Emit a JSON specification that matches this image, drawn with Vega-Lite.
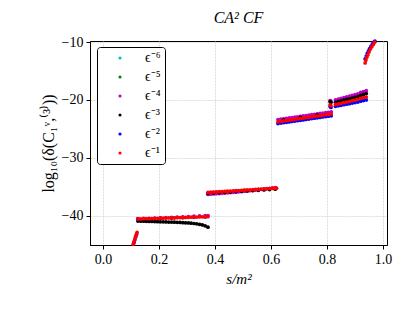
{
"$schema": "https://vega.github.io/schema/vega-lite/v6.json",
"width": 297, "height": 204,
"autosize": {"type": "none"},
"padding": {"left": 90, "top": 41, "right": 23, "bottom": 68},
"background": "white",
"title": {"text": "CA² CF", "font": "Liberation Serif", "fontSize": 16, "fontStyle": "italic", "fontWeight": "normal", "color": "black", "offset": 9, "anchor": "middle"},
"config": {
  "view": {"stroke": "black", "strokeWidth": 1},
  "axis": {"labelFont": "Liberation Serif", "labelFontSize": 14, "labelColor": "black", "titleFont": "Liberation Serif", "titleFontSize": 15, "titleFontWeight": "normal", "titleColor": "black", "domainColor": "black", "tickColor": "black", "tickSize": 4, "labelPadding": 3, "grid": true, "gridColor": "#d4d4d4", "gridDash": [2, 1], "gridWidth": 0.8}
},
"data": {"values": [
{"x":0.205,"y":-40.47,"e":"ϵ⁻⁶"},{"x":0.505,"y":-35.61,"e":"ϵ⁻⁶"},{"x":0.725,"y":-23.08,"e":"ϵ⁻⁶"},
{"x":0.255,"y":-40.39,"e":"ϵ⁻⁵"},{"x":0.555,"y":-35.46,"e":"ϵ⁻⁵"},{"x":0.765,"y":-22.79,"e":"ϵ⁻⁵"},
{"x":0.125,"y":-40.55,"e":"ϵ⁻⁴"},{"x":0.145,"y":-40.51,"e":"ϵ⁻⁴"},{"x":0.165,"y":-40.48,"e":"ϵ⁻⁴"},{"x":0.185,"y":-40.44,"e":"ϵ⁻⁴"},{"x":0.205,"y":-40.40,"e":"ϵ⁻⁴"},{"x":0.225,"y":-40.36,"e":"ϵ⁻⁴"},{"x":0.245,"y":-40.32,"e":"ϵ⁻⁴"},{"x":0.265,"y":-40.27,"e":"ϵ⁻⁴"},{"x":0.285,"y":-40.22,"e":"ϵ⁻⁴"},{"x":0.305,"y":-40.17,"e":"ϵ⁻⁴"},{"x":0.325,"y":-40.12,"e":"ϵ⁻⁴"},{"x":0.345,"y":-40.07,"e":"ϵ⁻⁴"},{"x":0.365,"y":-40.02,"e":"ϵ⁻⁴"},{"x":0.375,"y":-40.00,"e":"ϵ⁻⁴"},
{"x":0.375,"y":-36.35,"e":"ϵ⁻⁴"},{"x":0.385,"y":-36.31,"e":"ϵ⁻⁴"},{"x":0.395,"y":-36.27,"e":"ϵ⁻⁴"},{"x":0.405,"y":-36.23,"e":"ϵ⁻⁴"},{"x":0.415,"y":-36.19,"e":"ϵ⁻⁴"},{"x":0.425,"y":-36.15,"e":"ϵ⁻⁴"},{"x":0.435,"y":-36.11,"e":"ϵ⁻⁴"},{"x":0.445,"y":-36.07,"e":"ϵ⁻⁴"},{"x":0.455,"y":-36.03,"e":"ϵ⁻⁴"},{"x":0.465,"y":-35.99,"e":"ϵ⁻⁴"},{"x":0.475,"y":-35.95,"e":"ϵ⁻⁴"},{"x":0.485,"y":-35.90,"e":"ϵ⁻⁴"},{"x":0.495,"y":-35.85,"e":"ϵ⁻⁴"},{"x":0.505,"y":-35.80,"e":"ϵ⁻⁴"},{"x":0.515,"y":-35.75,"e":"ϵ⁻⁴"},{"x":0.525,"y":-35.70,"e":"ϵ⁻⁴"},{"x":0.535,"y":-35.65,"e":"ϵ⁻⁴"},{"x":0.545,"y":-35.59,"e":"ϵ⁻⁴"},{"x":0.555,"y":-35.53,"e":"ϵ⁻⁴"},{"x":0.565,"y":-35.47,"e":"ϵ⁻⁴"},{"x":0.575,"y":-35.41,"e":"ϵ⁻⁴"},{"x":0.585,"y":-35.35,"e":"ϵ⁻⁴"},{"x":0.595,"y":-35.29,"e":"ϵ⁻⁴"},{"x":0.605,"y":-35.23,"e":"ϵ⁻⁴"},{"x":0.615,"y":-35.17,"e":"ϵ⁻⁴"},
{"x":0.625,"y":-23.40,"e":"ϵ⁻⁴"},{"x":0.635,"y":-23.33,"e":"ϵ⁻⁴"},{"x":0.645,"y":-23.26,"e":"ϵ⁻⁴"},{"x":0.655,"y":-23.19,"e":"ϵ⁻⁴"},{"x":0.665,"y":-23.12,"e":"ϵ⁻⁴"},{"x":0.675,"y":-23.05,"e":"ϵ⁻⁴"},{"x":0.685,"y":-22.98,"e":"ϵ⁻⁴"},{"x":0.695,"y":-22.91,"e":"ϵ⁻⁴"},{"x":0.705,"y":-22.84,"e":"ϵ⁻⁴"},{"x":0.715,"y":-22.77,"e":"ϵ⁻⁴"},{"x":0.725,"y":-22.70,"e":"ϵ⁻⁴"},{"x":0.735,"y":-22.62,"e":"ϵ⁻⁴"},{"x":0.745,"y":-22.55,"e":"ϵ⁻⁴"},{"x":0.755,"y":-22.48,"e":"ϵ⁻⁴"},{"x":0.765,"y":-22.41,"e":"ϵ⁻⁴"},{"x":0.775,"y":-22.34,"e":"ϵ⁻⁴"},{"x":0.785,"y":-22.27,"e":"ϵ⁻⁴"},{"x":0.795,"y":-22.20,"e":"ϵ⁻⁴"},{"x":0.805,"y":-22.13,"e":"ϵ⁻⁴"},{"x":0.815,"y":-22.06,"e":"ϵ⁻⁴"},
{"x":0.811,"y":-20.10,"e":"ϵ⁻⁴"},{"x":0.814,"y":-20.20,"e":"ϵ⁻⁴"},
{"x":0.83,"y":-20.00,"e":"ϵ⁻⁴"},{"x":0.84,"y":-19.87,"e":"ϵ⁻⁴"},{"x":0.85,"y":-19.74,"e":"ϵ⁻⁴"},{"x":0.86,"y":-19.61,"e":"ϵ⁻⁴"},{"x":0.87,"y":-19.48,"e":"ϵ⁻⁴"},{"x":0.88,"y":-19.35,"e":"ϵ⁻⁴"},{"x":0.89,"y":-19.22,"e":"ϵ⁻⁴"},{"x":0.90,"y":-19.08,"e":"ϵ⁻⁴"},{"x":0.91,"y":-18.94,"e":"ϵ⁻⁴"},{"x":0.92,"y":-18.70,"e":"ϵ⁻⁴"},{"x":0.93,"y":-18.55,"e":"ϵ⁻⁴"},{"x":0.94,"y":-18.40,"e":"ϵ⁻⁴"},
{"x":0.125,"y":-40.95,"e":"ϵ⁻³"},{"x":0.135,"y":-40.97,"e":"ϵ⁻³"},{"x":0.145,"y":-40.99,"e":"ϵ⁻³"},{"x":0.155,"y":-41.00,"e":"ϵ⁻³"},{"x":0.165,"y":-41.02,"e":"ϵ⁻³"},{"x":0.175,"y":-41.03,"e":"ϵ⁻³"},{"x":0.185,"y":-41.05,"e":"ϵ⁻³"},{"x":0.195,"y":-41.06,"e":"ϵ⁻³"},{"x":0.205,"y":-41.08,"e":"ϵ⁻³"},{"x":0.215,"y":-41.09,"e":"ϵ⁻³"},{"x":0.225,"y":-41.11,"e":"ϵ⁻³"},{"x":0.235,"y":-41.13,"e":"ϵ⁻³"},{"x":0.245,"y":-41.14,"e":"ϵ⁻³"},{"x":0.255,"y":-41.16,"e":"ϵ⁻³"},{"x":0.265,"y":-41.18,"e":"ϵ⁻³"},{"x":0.275,"y":-41.20,"e":"ϵ⁻³"},{"x":0.285,"y":-41.23,"e":"ϵ⁻³"},{"x":0.295,"y":-41.26,"e":"ϵ⁻³"},{"x":0.305,"y":-41.29,"e":"ϵ⁻³"},{"x":0.315,"y":-41.33,"e":"ϵ⁻³"},{"x":0.325,"y":-41.38,"e":"ϵ⁻³"},{"x":0.335,"y":-41.44,"e":"ϵ⁻³"},{"x":0.345,"y":-41.52,"e":"ϵ⁻³"},{"x":0.355,"y":-41.62,"e":"ϵ⁻³"},{"x":0.365,"y":-41.78,"e":"ϵ⁻³"},{"x":0.375,"y":-42.02,"e":"ϵ⁻³"},
{"x":0.375,"y":-36.17,"e":"ϵ⁻³"},{"x":0.395,"y":-36.11,"e":"ϵ⁻³"},{"x":0.415,"y":-36.05,"e":"ϵ⁻³"},{"x":0.435,"y":-35.99,"e":"ϵ⁻³"},{"x":0.455,"y":-35.93,"e":"ϵ⁻³"},{"x":0.475,"y":-35.87,"e":"ϵ⁻³"},{"x":0.495,"y":-35.81,"e":"ϵ⁻³"},{"x":0.515,"y":-35.75,"e":"ϵ⁻³"},{"x":0.535,"y":-35.69,"e":"ϵ⁻³"},{"x":0.555,"y":-35.63,"e":"ϵ⁻³"},{"x":0.575,"y":-35.57,"e":"ϵ⁻³"},{"x":0.595,"y":-35.51,"e":"ϵ⁻³"},{"x":0.615,"y":-35.45,"e":"ϵ⁻³"},
{"x":0.645,"y":-23.45,"e":"ϵ⁻³"},{"x":0.705,"y":-23.03,"e":"ϵ⁻³"},{"x":0.765,"y":-22.60,"e":"ϵ⁻³"},
{"x":0.811,"y":-20.30,"e":"ϵ⁻³"},{"x":0.814,"y":-20.40,"e":"ϵ⁻³"},
{"x":0.83,"y":-20.40,"e":"ϵ⁻³"},{"x":0.84,"y":-20.28,"e":"ϵ⁻³"},{"x":0.85,"y":-20.16,"e":"ϵ⁻³"},{"x":0.86,"y":-20.04,"e":"ϵ⁻³"},{"x":0.87,"y":-19.92,"e":"ϵ⁻³"},{"x":0.88,"y":-19.80,"e":"ϵ⁻³"},{"x":0.89,"y":-19.67,"e":"ϵ⁻³"},{"x":0.90,"y":-19.55,"e":"ϵ⁻³"},{"x":0.91,"y":-19.42,"e":"ϵ⁻³"},{"x":0.92,"y":-19.20,"e":"ϵ⁻³"},{"x":0.93,"y":-19.05,"e":"ϵ⁻³"},{"x":0.94,"y":-18.90,"e":"ϵ⁻³"},
{"x":0.111,"y":-44.70,"e":"ϵ⁻²"},{"x":0.114,"y":-44.20,"e":"ϵ⁻²"},{"x":0.117,"y":-43.70,"e":"ϵ⁻²"},{"x":0.120,"y":-43.30,"e":"ϵ⁻²"},
{"x":0.125,"y":-40.63,"e":"ϵ⁻²"},{"x":0.165,"y":-40.57,"e":"ϵ⁻²"},{"x":0.205,"y":-40.50,"e":"ϵ⁻²"},{"x":0.245,"y":-40.44,"e":"ϵ⁻²"},{"x":0.285,"y":-40.37,"e":"ϵ⁻²"},{"x":0.325,"y":-40.31,"e":"ϵ⁻²"},{"x":0.365,"y":-40.24,"e":"ϵ⁻²"},
{"x":0.395,"y":-36.00,"e":"ϵ⁻²"},{"x":0.475,"y":-35.75,"e":"ϵ⁻²"},{"x":0.555,"y":-35.50,"e":"ϵ⁻²"},
{"x":0.625,"y":-24.08,"e":"ϵ⁻²"},{"x":0.635,"y":-24.01,"e":"ϵ⁻²"},{"x":0.645,"y":-23.94,"e":"ϵ⁻²"},{"x":0.655,"y":-23.87,"e":"ϵ⁻²"},{"x":0.665,"y":-23.80,"e":"ϵ⁻²"},{"x":0.675,"y":-23.73,"e":"ϵ⁻²"},{"x":0.685,"y":-23.66,"e":"ϵ⁻²"},{"x":0.695,"y":-23.59,"e":"ϵ⁻²"},{"x":0.705,"y":-23.52,"e":"ϵ⁻²"},{"x":0.715,"y":-23.45,"e":"ϵ⁻²"},{"x":0.725,"y":-23.38,"e":"ϵ⁻²"},{"x":0.735,"y":-23.30,"e":"ϵ⁻²"},{"x":0.745,"y":-23.23,"e":"ϵ⁻²"},{"x":0.755,"y":-23.16,"e":"ϵ⁻²"},{"x":0.765,"y":-23.09,"e":"ϵ⁻²"},{"x":0.775,"y":-23.02,"e":"ϵ⁻²"},{"x":0.785,"y":-22.95,"e":"ϵ⁻²"},{"x":0.795,"y":-22.88,"e":"ϵ⁻²"},{"x":0.805,"y":-22.81,"e":"ϵ⁻²"},{"x":0.815,"y":-22.74,"e":"ϵ⁻²"},
{"x":0.811,"y":-21.15,"e":"ϵ⁻²"},{"x":0.814,"y":-21.30,"e":"ϵ⁻²"},
{"x":0.83,"y":-21.10,"e":"ϵ⁻²"},{"x":0.84,"y":-21.01,"e":"ϵ⁻²"},{"x":0.85,"y":-20.92,"e":"ϵ⁻²"},{"x":0.86,"y":-20.83,"e":"ϵ⁻²"},{"x":0.87,"y":-20.74,"e":"ϵ⁻²"},{"x":0.88,"y":-20.65,"e":"ϵ⁻²"},{"x":0.89,"y":-20.55,"e":"ϵ⁻²"},{"x":0.90,"y":-20.46,"e":"ϵ⁻²"},{"x":0.91,"y":-20.36,"e":"ϵ⁻²"},{"x":0.92,"y":-20.22,"e":"ϵ⁻²"},{"x":0.93,"y":-20.11,"e":"ϵ⁻²"},{"x":0.94,"y":-20.00,"e":"ϵ⁻²"},
{"x":0.936,"y":-12.90,"e":"ϵ⁻²"},{"x":0.940,"y":-12.40,"e":"ϵ⁻²"},{"x":0.944,"y":-11.90,"e":"ϵ⁻²"},{"x":0.948,"y":-11.50,"e":"ϵ⁻²"},{"x":0.952,"y":-11.10,"e":"ϵ⁻²"},{"x":0.957,"y":-10.70,"e":"ϵ⁻²"},{"x":0.962,"y":-10.30,"e":"ϵ⁻²"},{"x":0.967,"y":-10.00,"e":"ϵ⁻²"},{"x":0.971,"y":-9.80,"e":"ϵ⁻²"},
{"x":0.108,"y":-44.95,"e":"ϵ⁻¹"},{"x":0.111,"y":-44.50,"e":"ϵ⁻¹"},{"x":0.114,"y":-44.05,"e":"ϵ⁻¹"},{"x":0.117,"y":-43.60,"e":"ϵ⁻¹"},{"x":0.120,"y":-43.20,"e":"ϵ⁻¹"},{"x":0.122,"y":-42.90,"e":"ϵ⁻¹"},
{"x":0.125,"y":-40.60,"e":"ϵ⁻¹"},{"x":0.135,"y":-40.58,"e":"ϵ⁻¹"},{"x":0.145,"y":-40.57,"e":"ϵ⁻¹"},{"x":0.155,"y":-40.55,"e":"ϵ⁻¹"},{"x":0.165,"y":-40.54,"e":"ϵ⁻¹"},{"x":0.175,"y":-40.52,"e":"ϵ⁻¹"},{"x":0.185,"y":-40.50,"e":"ϵ⁻¹"},{"x":0.195,"y":-40.49,"e":"ϵ⁻¹"},{"x":0.205,"y":-40.47,"e":"ϵ⁻¹"},{"x":0.215,"y":-40.46,"e":"ϵ⁻¹"},{"x":0.225,"y":-40.44,"e":"ϵ⁻¹"},{"x":0.235,"y":-40.42,"e":"ϵ⁻¹"},{"x":0.245,"y":-40.41,"e":"ϵ⁻¹"},{"x":0.255,"y":-40.39,"e":"ϵ⁻¹"},{"x":0.265,"y":-40.38,"e":"ϵ⁻¹"},{"x":0.275,"y":-40.36,"e":"ϵ⁻¹"},{"x":0.285,"y":-40.34,"e":"ϵ⁻¹"},{"x":0.295,"y":-40.33,"e":"ϵ⁻¹"},{"x":0.305,"y":-40.31,"e":"ϵ⁻¹"},{"x":0.315,"y":-40.29,"e":"ϵ⁻¹"},{"x":0.325,"y":-40.28,"e":"ϵ⁻¹"},{"x":0.335,"y":-40.26,"e":"ϵ⁻¹"},{"x":0.345,"y":-40.25,"e":"ϵ⁻¹"},{"x":0.355,"y":-40.23,"e":"ϵ⁻¹"},{"x":0.365,"y":-40.21,"e":"ϵ⁻¹"},{"x":0.375,"y":-40.20,"e":"ϵ⁻¹"},
{"x":0.375,"y":-36.00,"e":"ϵ⁻¹"},{"x":0.385,"y":-35.97,"e":"ϵ⁻¹"},{"x":0.395,"y":-35.94,"e":"ϵ⁻¹"},{"x":0.405,"y":-35.91,"e":"ϵ⁻¹"},{"x":0.415,"y":-35.88,"e":"ϵ⁻¹"},{"x":0.425,"y":-35.85,"e":"ϵ⁻¹"},{"x":0.435,"y":-35.82,"e":"ϵ⁻¹"},{"x":0.445,"y":-35.79,"e":"ϵ⁻¹"},{"x":0.455,"y":-35.76,"e":"ϵ⁻¹"},{"x":0.465,"y":-35.73,"e":"ϵ⁻¹"},{"x":0.475,"y":-35.70,"e":"ϵ⁻¹"},{"x":0.485,"y":-35.67,"e":"ϵ⁻¹"},{"x":0.495,"y":-35.64,"e":"ϵ⁻¹"},{"x":0.505,"y":-35.61,"e":"ϵ⁻¹"},{"x":0.515,"y":-35.58,"e":"ϵ⁻¹"},{"x":0.525,"y":-35.55,"e":"ϵ⁻¹"},{"x":0.535,"y":-35.52,"e":"ϵ⁻¹"},{"x":0.545,"y":-35.49,"e":"ϵ⁻¹"},{"x":0.555,"y":-35.46,"e":"ϵ⁻¹"},{"x":0.565,"y":-35.43,"e":"ϵ⁻¹"},{"x":0.575,"y":-35.40,"e":"ϵ⁻¹"},{"x":0.585,"y":-35.37,"e":"ϵ⁻¹"},{"x":0.595,"y":-35.34,"e":"ϵ⁻¹"},{"x":0.605,"y":-35.31,"e":"ϵ⁻¹"},{"x":0.615,"y":-35.28,"e":"ϵ⁻¹"},{"x":0.620,"y":-35.26,"e":"ϵ⁻¹"},
{"x":0.625,"y":-23.78,"e":"ϵ⁻¹"},{"x":0.635,"y":-23.71,"e":"ϵ⁻¹"},{"x":0.645,"y":-23.64,"e":"ϵ⁻¹"},{"x":0.655,"y":-23.57,"e":"ϵ⁻¹"},{"x":0.665,"y":-23.50,"e":"ϵ⁻¹"},{"x":0.675,"y":-23.43,"e":"ϵ⁻¹"},{"x":0.685,"y":-23.36,"e":"ϵ⁻¹"},{"x":0.695,"y":-23.29,"e":"ϵ⁻¹"},{"x":0.705,"y":-23.22,"e":"ϵ⁻¹"},{"x":0.715,"y":-23.15,"e":"ϵ⁻¹"},{"x":0.725,"y":-23.08,"e":"ϵ⁻¹"},{"x":0.735,"y":-23.00,"e":"ϵ⁻¹"},{"x":0.745,"y":-22.93,"e":"ϵ⁻¹"},{"x":0.755,"y":-22.86,"e":"ϵ⁻¹"},{"x":0.765,"y":-22.79,"e":"ϵ⁻¹"},{"x":0.775,"y":-22.72,"e":"ϵ⁻¹"},{"x":0.785,"y":-22.65,"e":"ϵ⁻¹"},{"x":0.795,"y":-22.58,"e":"ϵ⁻¹"},{"x":0.805,"y":-22.51,"e":"ϵ⁻¹"},{"x":0.815,"y":-22.44,"e":"ϵ⁻¹"},
{"x":0.811,"y":-20.85,"e":"ϵ⁻¹"},{"x":0.814,"y":-21.00,"e":"ϵ⁻¹"},
{"x":0.83,"y":-20.80,"e":"ϵ⁻¹"},{"x":0.84,"y":-20.69,"e":"ϵ⁻¹"},{"x":0.85,"y":-20.58,"e":"ϵ⁻¹"},{"x":0.86,"y":-20.47,"e":"ϵ⁻¹"},{"x":0.87,"y":-20.36,"e":"ϵ⁻¹"},{"x":0.88,"y":-20.25,"e":"ϵ⁻¹"},{"x":0.89,"y":-20.13,"e":"ϵ⁻¹"},{"x":0.90,"y":-20.02,"e":"ϵ⁻¹"},{"x":0.91,"y":-19.90,"e":"ϵ⁻¹"},{"x":0.92,"y":-19.72,"e":"ϵ⁻¹"},{"x":0.93,"y":-19.61,"e":"ϵ⁻¹"},{"x":0.94,"y":-19.50,"e":"ϵ⁻¹"},
{"x":0.936,"y":-13.60,"e":"ϵ⁻¹"},{"x":0.939,"y":-13.10,"e":"ϵ⁻¹"},{"x":0.942,"y":-12.60,"e":"ϵ⁻¹"},{"x":0.946,"y":-12.20,"e":"ϵ⁻¹"},{"x":0.950,"y":-11.70,"e":"ϵ⁻¹"},{"x":0.955,"y":-11.20,"e":"ϵ⁻¹"},{"x":0.960,"y":-10.80,"e":"ϵ⁻¹"},{"x":0.965,"y":-10.40,"e":"ϵ⁻¹"},{"x":0.970,"y":-10.00,"e":"ϵ⁻¹"}
]},
"mark": {"type": "circle", "size": 14, "opacity": 1},
"encoding": {
  "x": {"field": "x", "type": "quantitative", "scale": {"domain": [-0.046, 1.014], "nice": false, "zero": false}, "axis": {"values": [0, 0.2, 0.4, 0.6, 0.8, 1.0], "format": ".1f", "title": "s/m²", "titleFontStyle": "italic", "titlePadding": 5}},
  "y": {"field": "y", "type": "quantitative", "scale": {"domain": [-45.1, -9.8], "nice": false, "zero": false}, "axis": {"values": [-40, -30, -20, -10], "title": "log₁₀(δ(C₁ᵛ,⁽³⁾))", "titleFontSize": 16, "titlePadding": 5}},
  "color": {"field": "e", "type": "nominal", "sort": null,
    "scale": {"domain": ["ϵ⁻⁶", "ϵ⁻⁵", "ϵ⁻⁴", "ϵ⁻³", "ϵ⁻²", "ϵ⁻¹"], "range": ["#00bfbf", "#008000", "#bf00bf", "#000000", "#0000ff", "#ff0000"]},
    "legend": {"title": null, "orient": "none", "legendX": 7, "legendY": 6, "strokeColor": "black", "fillColor": "white", "padding": 4, "cornerRadius": 3, "symbolOffset": 12, "labelOffset": 18, "rowPadding": 5, "labelFont": "Liberation Serif", "labelFontSize": 14, "labelColor": "black", "symbolType": "circle", "symbolSize": 10}
  }
}
}
